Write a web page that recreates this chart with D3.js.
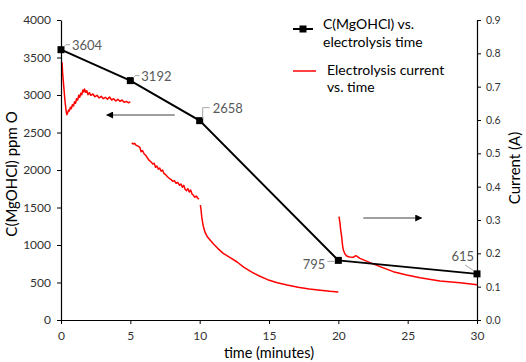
<!DOCTYPE html>
<html>
<head>
<meta charset="utf-8">
<script src="https://cdn.jsdelivr.net/npm/d3@7"></script>
<style>
  html, body { margin: 0; padding: 0; background: #fff; }
  svg { display: block; font-family: Lato, "Open Sans", sans-serif; }
</style>
</head>
<body>
<div id="chart"></div>
<script>
// Concentration samples (left axis)
const sampleTimes = [0, 5, 10, 20, 30];
const concentration = [3604, 3192, 2658, 795, 615];

// Electrolysis current (right axis), one array per run
const currentRun1 = [
  [0.03, 0.775], [0.08, 0.77], [0.12, 0.74], [0.2, 0.7], [0.28, 0.66], [0.36, 0.63],
  [0.42, 0.616], [0.48, 0.622], [0.55, 0.63], [0.6, 0.627], [0.68, 0.638], [0.75, 0.634],
  [0.82, 0.646], [0.9, 0.642], [0.98, 0.655], [1.05, 0.65], [1.12, 0.664], [1.2, 0.66],
  [1.28, 0.674], [1.35, 0.668], [1.42, 0.68], [1.5, 0.676], [1.58, 0.69], [1.64, 0.684],
  [1.7, 0.693], [1.78, 0.683], [1.86, 0.688], [1.95, 0.676], [2.05, 0.682], [2.15, 0.674],
  [2.3, 0.678], [2.45, 0.67], [2.6, 0.674], [2.75, 0.666], [2.9, 0.671], [3.05, 0.664],
  [3.2, 0.668], [3.35, 0.662], [3.5, 0.669], [3.65, 0.66], [3.8, 0.664], [3.95, 0.657],
  [4.1, 0.662], [4.25, 0.656], [4.4, 0.66], [4.55, 0.653], [4.7, 0.656], [4.85, 0.652], [5.0, 0.654]
];
const currentRun2 = [
  [5.1, 0.532], [5.2, 0.528], [5.3, 0.53], [5.42, 0.524], [5.55, 0.522], [5.68, 0.518],
  [5.78, 0.505], [5.88, 0.508], [6.0, 0.498], [6.12, 0.494], [6.25, 0.485], [6.38, 0.478],
  [6.5, 0.474], [6.62, 0.468], [6.72, 0.47], [6.82, 0.458], [6.92, 0.462], [7.02, 0.452],
  [7.12, 0.456], [7.22, 0.446], [7.32, 0.45], [7.42, 0.44], [7.55, 0.436], [7.68, 0.43],
  [7.8, 0.425], [7.92, 0.422], [8.05, 0.416], [8.18, 0.418], [8.3, 0.41], [8.42, 0.413],
  [8.55, 0.404], [8.65, 0.408], [8.75, 0.398], [8.85, 0.404], [8.95, 0.392], [9.05, 0.388],
  [9.15, 0.394], [9.25, 0.384], [9.35, 0.39], [9.45, 0.378], [9.55, 0.374], [9.65, 0.368],
  [9.75, 0.372], [9.85, 0.366], [9.95, 0.362]
];
const currentRun3 = [
  [10.05, 0.345], [10.1, 0.33], [10.15, 0.31], [10.22, 0.29], [10.3, 0.275], [10.4, 0.262],
  [10.55, 0.25], [10.75, 0.24], [11.0, 0.228], [11.3, 0.215], [11.7, 0.2], [12.2, 0.187],
  [12.7, 0.174], [13.2, 0.158], [13.7, 0.145], [14.3, 0.132], [14.9, 0.121], [15.6, 0.112],
  [16.3, 0.105], [17.1, 0.098], [17.9, 0.093], [18.7, 0.089], [19.4, 0.086], [20.0, 0.084]
];
const currentRun4 = [
  [20.05, 0.31], [20.12, 0.29], [20.17, 0.27], [20.24, 0.25], [20.3, 0.225], [20.36, 0.21],
  [20.48, 0.198], [20.6, 0.192], [20.8, 0.189], [21.08, 0.188], [21.25, 0.193], [21.35, 0.191],
  [21.56, 0.185], [22.28, 0.172], [23.0, 0.16], [23.96, 0.145], [24.93, 0.135], [25.89, 0.127],
  [27.33, 0.117], [28.77, 0.112], [30.0, 0.106]
];

// Tick values
const timeTicks = [0, 5, 10, 15, 20, 25, 30];
const concTicks = [0, 500, 1000, 1500, 2000, 2500, 3000, 3500, 4000];
const currentTicks = [0, 0.1, 0.2, 0.3, 0.4, 0.5, 0.6, 0.7, 0.8, 0.9];

const width = 526;
const height = 362;
const margin = { top: 20, right: 49, bottom: 42, left: 61 };
const innerWidth = width - margin.left - margin.right;
const innerHeight = height - margin.top - margin.bottom;

const colors = { red: '#ff0000', black: '#000', tickText: '#333', label: '#595959', leader: '#a6a6a6' };

const svg = d3.select('#chart')
  .append('svg')
  .attr('width', width)
  .attr('height', height);

const g = svg.append('g')
  .attr('transform', `translate(${margin.left},${margin.top})`);

// Scales
const x = d3.scaleLinear().domain([0, 30]).range([0, innerWidth]);
const yConc = d3.scaleLinear().domain([0, 4000]).range([innerHeight, 0]);
const yCurr = d3.scaleLinear().domain([0, 0.9]).range([innerHeight, 0]);

// Current traces
const lineCurr = d3.line()
  .x(d => x(d[0]))
  .y(d => yCurr(d[1]));

[currentRun1, currentRun2, currentRun3, currentRun4].forEach(run => {
  g.append('path')
    .datum(run)
    .attr('fill', 'none')
    .attr('stroke', colors.red)
    .attr('stroke-width', 1.5)
    .attr('stroke-linejoin', 'round')
    .attr('d', lineCurr);
});

// Concentration line + markers
const concData = sampleTimes.map((t, i) => ({ t: t, v: concentration[i] }));

g.append('path')
  .datum(concData)
  .attr('fill', 'none')
  .attr('stroke', colors.black)
  .attr('stroke-width', 2)
  .attr('d', d3.line().x(d => x(d.t)).y(d => yConc(d.v)));

g.selectAll('.marker')
  .data(concData)
  .enter()
  .append('rect')
  .attr('x', d => x(d.t) - 3.5)
  .attr('y', d => yConc(d.v) - 3.5)
  .attr('width', 7)
  .attr('height', 7)
  .attr('fill', colors.black);

// Data labels with leader lines
const labelStyle = [
  { dx: 11, dy: -4, anchor: 'start', leader: [[3, -3], [5, -5], [9, -5]] },
  { dx: 11, dy: -4, anchor: 'start', leader: [[3, -3], [5, -5], [9, -5]] },
  { dx: 13, dy: -12, anchor: 'start', leader: [[3, -2], [3, -13], [10, -13]] },
  { dx: -13, dy: 4, anchor: 'end', leader: [[-4, 1], [-11, 1]] },
  { dx: -3, dy: -17, anchor: 'end', leader: [[-3, -3], [-12, -9]] }
];

concData.forEach((d, i) => {
  const mx = x(d.t), my = yConc(d.v), s = labelStyle[i];
  g.append('path')
    .attr('fill', 'none')
    .attr('stroke', colors.leader)
    .attr('stroke-width', 1)
    .attr('d', d3.line()(s.leader.map(p => [mx + p[0], my + p[1]])));
  g.append('text')
    .attr('x', mx + s.dx)
    .attr('y', my + s.dy)
    .attr('dy', '0.35em')
    .attr('text-anchor', s.anchor)
    .attr('fill', colors.label)
    .attr('font-size', '13px')
    .text(d.v);
});

// Arrows pointing to the axis each series belongs to
const defs = svg.append('defs');
defs.append('marker')
  .attr('id', 'arrowhead')
  .attr('viewBox', '0 0 10 10')
  .attr('refX', 9)
  .attr('refY', 5)
  .attr('markerWidth', 9)
  .attr('markerHeight', 7)
  .attr('markerUnits', 'userSpaceOnUse')
  .attr('orient', 'auto')
  .append('path')
  .attr('d', 'M0,0 L10,5 L0,10 Z')
  .attr('fill', '#000');

g.append('line')
  .attr('x1', x(8.2)).attr('x2', x(3.3))
  .attr('y1', yConc(2733)).attr('y2', yConc(2733))
  .attr('stroke', '#7f7f7f')
  .attr('stroke-width', 1.5)
  .attr('marker-end', 'url(#arrowhead)');

g.append('line')
  .attr('x1', x(21.8)).attr('x2', x(26.0))
  .attr('y1', yCurr(0.306)).attr('y2', yCurr(0.306))
  .attr('stroke', '#7f7f7f')
  .attr('stroke-width', 1.5)
  .attr('marker-end', 'url(#arrowhead)');

// Axes
function styleAxis(sel, size) {
  sel.select('.domain').attr('stroke', '#000').attr('stroke-width', 1.2);
  sel.selectAll('.tick line').attr('stroke', '#000');
  sel.selectAll('.tick text')
    .attr('fill', colors.tickText)
    .attr('font-size', size)
    .attr('font-family', 'Lato, sans-serif');
}

const xAxis = g.append('g')
  .attr('transform', `translate(0,${innerHeight})`)
  .call(d3.axisBottom(x).tickValues(timeTicks).tickSize(4).tickPadding(7).tickSizeOuter(0));
styleAxis(xAxis, '12px');

const yAxisLeft = g.append('g')
  .call(d3.axisLeft(yConc).tickValues(concTicks).tickFormat(d3.format('d')).tickSize(4).tickPadding(6).tickSizeOuter(0));
styleAxis(yAxisLeft, '12px');

const yAxisRight = g.append('g')
  .attr('transform', `translate(${innerWidth},0)`)
  .call(d3.axisRight(yCurr).tickValues(currentTicks).tickFormat(d3.format('.1f')).tickSize(4).tickPadding(5).tickSizeOuter(0));
styleAxis(yAxisRight, '10.5px');

// Axis titles
svg.append('text')
  .attr('x', margin.left + innerWidth / 2)
  .attr('y', 352.5)
  .attr('dy', '0.35em')
  .attr('text-anchor', 'middle')
  .attr('fill', '#000')
  .attr('font-size', '14.5px')
  .text('time (minutes)');

svg.append('text')
  .attr('transform', `translate(12,${margin.top + innerHeight / 2 + 4}) rotate(-90)`)
  .attr('dy', '0.35em')
  .attr('text-anchor', 'middle')
  .attr('fill', '#000')
  .attr('font-size', '15px')
  .text('C(MgOHCl) ppm O');

svg.append('text')
  .attr('transform', `translate(515,${margin.top + innerHeight / 2 - 2}) rotate(-90)`)
  .attr('dy', '0.35em')
  .attr('text-anchor', 'middle')
  .attr('fill', '#000')
  .attr('font-size', '15px')
  .text('Current (A)');

// Legend
const legend = svg.append('g');

legend.append('line')
  .attr('x1', 293).attr('x2', 313)
  .attr('y1', 29).attr('y2', 29)
  .attr('stroke', '#000')
  .attr('stroke-width', 2);
legend.append('rect')
  .attr('x', 299.5).attr('y', 25.5)
  .attr('width', 7).attr('height', 7)
  .attr('fill', '#000');

[['C(MgOHCl) vs.', 323, 24], ['electrolysis time', 323, 42]].forEach(t => {
  legend.append('text')
    .attr('x', t[1]).attr('y', t[2])
    .attr('dy', '0.35em')
    .attr('fill', '#000')
    .attr('font-size', '14px')
    .text(t[0]);
});

legend.append('line')
  .attr('x1', 293).attr('x2', 316)
  .attr('y1', 71).attr('y2', 71)
  .attr('stroke', colors.red)
  .attr('stroke-width', 1.5);

[['Electrolysis current', 327, 70], ['vs. time', 327, 87]].forEach(t => {
  legend.append('text')
    .attr('x', t[1]).attr('y', t[2])
    .attr('dy', '0.35em')
    .attr('fill', '#000')
    .attr('font-size', '14px')
    .text(t[0]);
});
</script>
</body>
</html>
